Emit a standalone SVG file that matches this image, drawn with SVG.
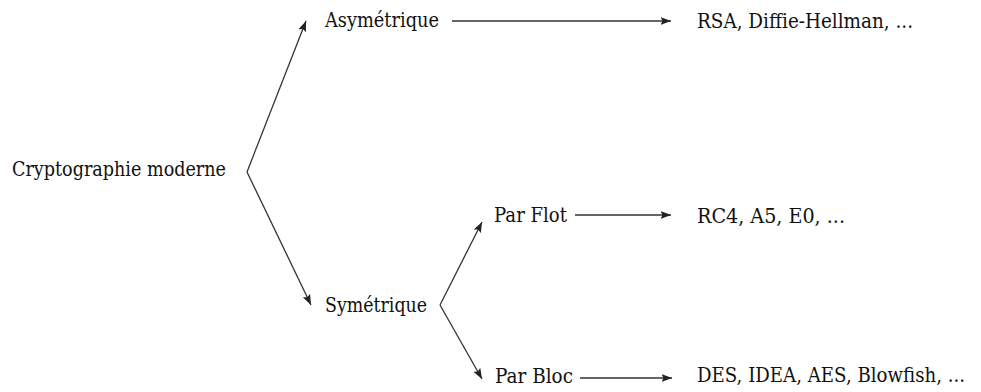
<svg xmlns="http://www.w3.org/2000/svg" width="981" height="392" viewBox="0 0 981 392">
<style>
.t{font-family:"DejaVu Serif",serif;font-size:20.5px;fill:#111}
.c{fill:none;stroke:#333;stroke-width:1.3}
</style>
<defs>
<marker id="ah" markerUnits="userSpaceOnUse" markerWidth="11" markerHeight="9" refX="10.5" refY="4.5" orient="auto">
<path d="M0,0.5 L10.5,4.5 L0,8.5 L2,4.5 z" fill="#222"/>
</marker>
</defs>
<rect width="981" height="392" fill="#fff"/>
<g id="connectors">
<polyline class="c" marker-end="url(#ah)" points="247,172 306,21"/>
<polyline class="c" marker-end="url(#ah)" points="247,172 311,305"/>
<polyline class="c" marker-end="url(#ah)" points="440,305 482,222"/>
<polyline class="c" marker-end="url(#ah)" points="440,305 482,379"/>
<line class="c" marker-end="url(#ah)" x1="452" y1="21" x2="671" y2="21"/>
<line class="c" marker-end="url(#ah)" x1="575" y1="215" x2="671" y2="215"/>
<line class="c" marker-end="url(#ah)" x1="580" y1="378" x2="672" y2="378"/>
</g>
<g id="crypto"><text class="t" x="12" y="176" textLength="214" lengthAdjust="spacingAndGlyphs">Cryptographie moderne</text></g>
<g id="asym"><text class="t" x="325" y="27" textLength="114" lengthAdjust="spacingAndGlyphs">Asymétrique</text></g>
<g id="rsa"><text class="t" x="697" y="28" textLength="216" lengthAdjust="spacingAndGlyphs">RSA, Diffie-Hellman, ...</text></g>
<g id="sym"><text class="t" x="325" y="312" textLength="102" lengthAdjust="spacingAndGlyphs">Symétrique</text></g>
<g id="flot"><text class="t" x="494" y="222" textLength="73" lengthAdjust="spacingAndGlyphs">Par Flot</text></g>
<g id="rc4"><text class="t" x="697" y="223" textLength="148" lengthAdjust="spacingAndGlyphs">RC4, A5, E0, ...</text></g>
<g id="bloc"><text class="t" x="495" y="383" textLength="78" lengthAdjust="spacingAndGlyphs">Par Bloc</text></g>
<g id="des"><text class="t" x="697" y="382" font-size="20" textLength="268" lengthAdjust="spacingAndGlyphs">DES, IDEA, AES, Blowfish, ...</text></g>
</svg>
